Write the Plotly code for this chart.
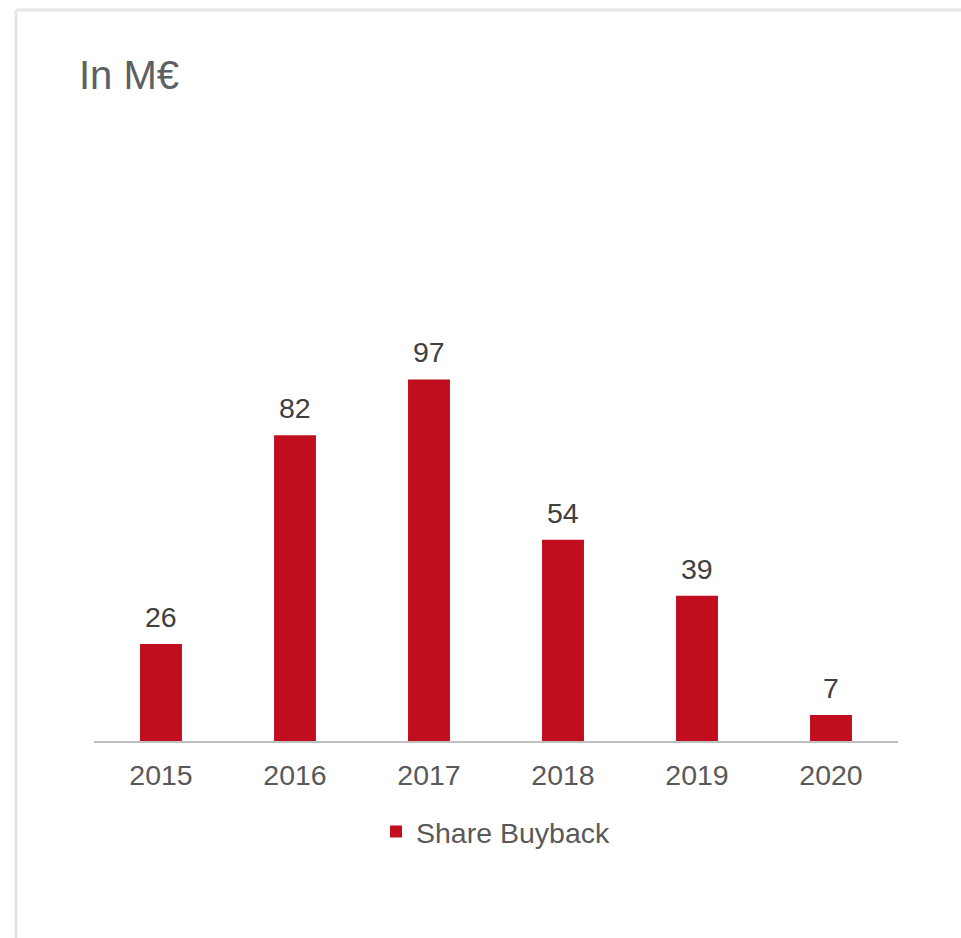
import plotly.graph_objects as go

# Share buyback amounts per year, in millions of euros
years = ["2015", "2016", "2017", "2018", "2019", "2020"]
buyback = [26, 82, 97, 54, 39, 7]

BAR_RED = "#C10E1F"
FONT = "Liberation Sans, Arial, sans-serif"

W, H = 961, 938
L, R, T, B = 94, 63, 331, 197
plot_w = W - L - R
plot_h = H - T - B


def px_x(px):
    return (px - L) / plot_w


def px_y(py):
    return (H - B - py) / plot_h


fig = go.Figure()
fig.add_trace(go.Bar(
    x=years,
    y=buyback,
    name="Share Buyback",
    marker=dict(color=BAR_RED, line=dict(width=0)),
    width=0.313,
    hoverinfo="x+y",
))

# Value labels above each bar (x given as category index)
annotations = [
    dict(x=i, y=v, xref="x", yref="y", text=str(v), showarrow=False,
         yanchor="bottom", yshift=9,
         font=dict(family=FONT, size=28.5, color="#404040"))
    for i, v in enumerate(buyback)
]

# Light frame along the top and left edges
shapes = [
    dict(type="line", xref="paper", yref="paper",
         x0=px_x(16), x1=px_x(W + 5), y0=px_y(10), y1=px_y(10),
         line=dict(color="#E6E6E6", width=3)),
    dict(type="line", xref="paper", yref="paper",
         x0=px_x(16), x1=px_x(16), y0=px_y(10), y1=px_y(H + 5),
         line=dict(color="#E6E6E6", width=3)),
]

fig.update_layout(
    width=W, height=H,
    margin=dict(l=L, r=R, t=T, b=B, pad=0),
    paper_bgcolor="white",
    plot_bgcolor="white",
    title=dict(text="In M€", x=79 / W, xanchor="left", xref="container",
               y=1 - 75 / H, yanchor="middle", yref="container",
               font=dict(family=FONT, size=40, color="#5B6064")),
    xaxis=dict(
        type="category",
        range=[-0.5, 5.5],
        showline=True, linecolor="#BFBFBF", linewidth=2,
        showgrid=False, zeroline=False, ticks="",
        tickfont=dict(family=FONT, size=28.5, color="#595959"),
        ticklabelstandoff=8,
    ),
    yaxis=dict(
        range=[0, 110],
        visible=False,
        showgrid=False, zeroline=False,
    ),
    showlegend=True,
    legend=dict(orientation="h", x=0.5, xanchor="center",
                y=px_y(832), yanchor="middle",
                font=dict(family=FONT, size=28.5, color="#595959")),
    annotations=annotations,
    shapes=shapes,
)

fig.write_html("out.html")
